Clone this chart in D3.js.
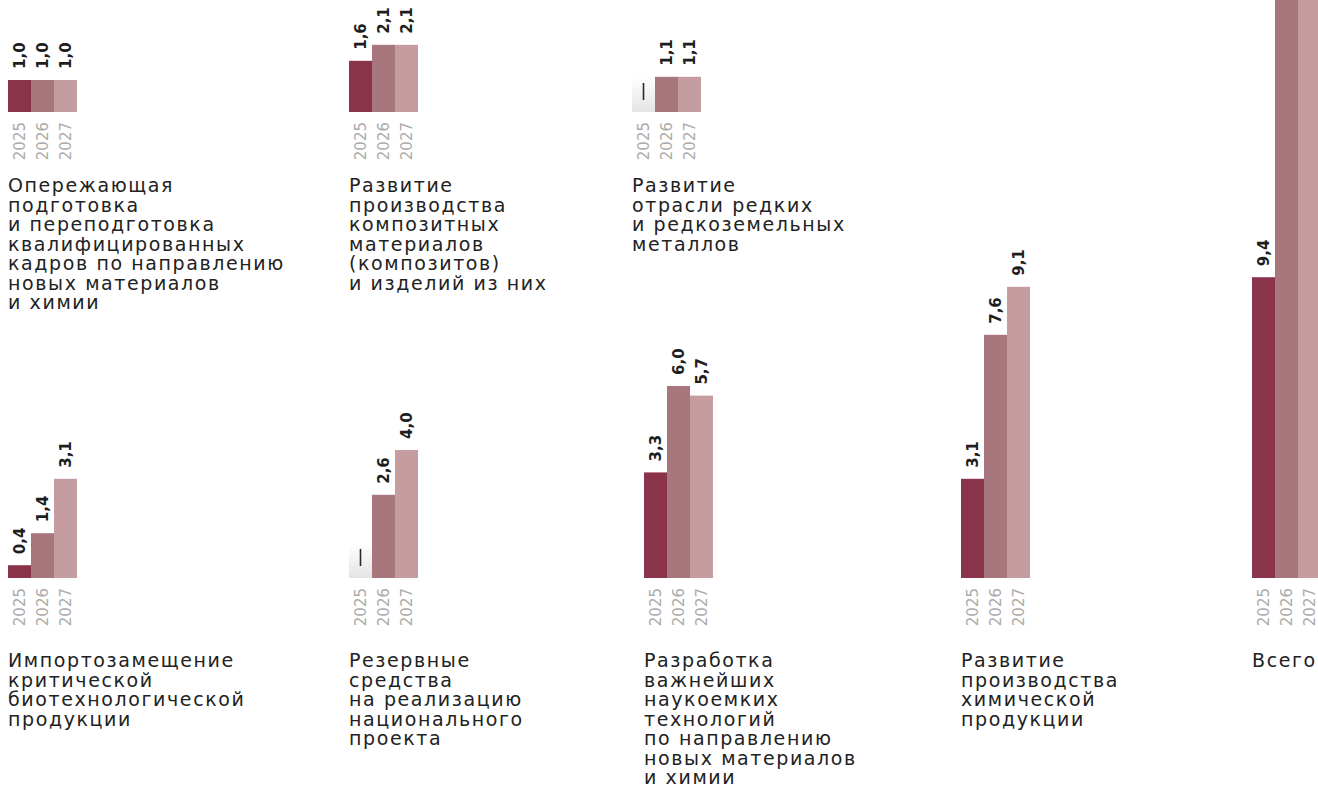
<!DOCTYPE html>
<html>
<head>
<meta charset="utf-8">
<script src="https://cdn.jsdelivr.net/npm/d3@7"></script>
<style>
  body { margin: 0; background: #fff; }
  svg { display: block; font-family: "DejaVu Sans", sans-serif; }
</style>
</head>
<body>
<div id="chart"></div>
<script>
const years = ["2025", "2026", "2027"];
const categories = [
  ["Опережающая", "подготовка", "и переподготовка", "квалифицированных", "кадров по направлению", "новых материалов", "и химии"],
  ["Развитие", "производства", "композитных", "материалов", "(композитов)", "и изделий из них"],
  ["Развитие", "отрасли редких", "и редкоземельных", "металлов"],
  ["Импортозамещение", "критической", "биотехнологической", "продукции"],
  ["Резервные", "средства", "на реализацию", "национального", "проекта"],
  ["Разработка", "важнейших", "наукоемких", "технологий", "по направлению", "новых материалов", "и химии"],
  ["Развитие", "производства", "химической", "продукции"],
  ["Всего"]
];
const values2025 = [1.0, 1.6, null, 0.4, null, 3.3, 3.1, 9.4];
const values2026 = [1.0, 2.1, 1.1, 1.4, 2.6, 6.0, 7.6, 21.8];
const values2027 = [1.0, 2.1, 1.1, 3.1, 4.0, 5.7, 9.1, 26.1];
const seriesValues = [values2025, values2026, values2027];

// layout of panels (left edge, row)
const panelX = [8, 349, 632, 8, 349, 644, 961, 1252];
const panelRow = [0, 0, 0, 1, 1, 1, 1, 1];
const rowBase = [112, 578];
const rowLabelY = [192, 667];
const colors = ["#8a344b", "#a8777d", "#c59ca0"];

const width = 1318, height = 807;
const svg = d3.select("#chart").append("svg")
  .attr("width", width).attr("height", height);

const defs = svg.append("defs");
const grad = defs.append("linearGradient").attr("id", "empty")
  .attr("x1", 0).attr("y1", 0).attr("x2", 0).attr("y2", 1);
grad.append("stop").attr("offset", "0%").attr("stop-color", "#ffffff");
grad.append("stop").attr("offset", "100%").attr("stop-color", "#e4e4e6");

const xScale = d3.scaleBand().domain(years).range([0, 69]);
const yScale = d3.scaleLinear().domain([0, 1]).range([0, 32]);
const fmt = v => d3.format(".1f")(v).replace(".", ",");

categories.forEach((lines, i) => {
  const base = rowBase[panelRow[i]];
  const g = svg.append("g").attr("transform", `translate(${panelX[i]},0)`);
  const data = years.map((y, k) => ({year: y, v: seriesValues[k][i], k}));
  const cx = d => xScale(d.year) + xScale.bandwidth() / 2;

  g.selectAll("rect.bar").data(data.filter(d => d.v != null)).enter()
    .append("rect").attr("class", "bar")
    .attr("x", d => xScale(d.year))
    .attr("width", xScale.bandwidth())
    .attr("y", d => base - yScale(d.v))
    .attr("height", d => yScale(d.v))
    .attr("fill", d => colors[d.k]);

  // no financing: light placeholder with a dash
  const empty = data.filter(d => d.v == null);
  g.selectAll("rect.empty").data(empty).enter()
    .append("rect").attr("class", "empty")
    .attr("x", d => xScale(d.year))
    .attr("width", xScale.bandwidth())
    .attr("y", base - 35)
    .attr("height", 35)
    .attr("fill", "url(#empty)");
  g.selectAll("line.dash").data(empty).enter()
    .append("line").attr("class", "dash")
    .attr("x1", cx).attr("x2", cx)
    .attr("y1", base - 29).attr("y2", base - 12)
    .attr("stroke", "#2a2a2a").attr("stroke-width", 1.6);

  // value labels (those above the picture edge are not drawn)
  g.selectAll("text.val").data(data.filter(d => d.v != null && base - yScale(d.v) - 40 > 0)).enter()
    .append("text").attr("class", "val")
    .attr("transform", d => `translate(${cx(d)},${base - yScale(d.v) - 11}) rotate(-90)`)
    .attr("dy", "0.36em")
    .attr("font-size", 15).attr("font-weight", "bold").attr("fill", "#1e1e1e")
    .text(d => fmt(d.v));

  g.selectAll("text.year").data(data).enter()
    .append("text").attr("class", "year")
    .attr("transform", d => `translate(${cx(d)},${base + 10}) rotate(-90)`)
    .attr("text-anchor", "end").attr("dy", "0.36em")
    .attr("font-size", 15).attr("fill", "#ababab")
    .text(d => d.year);

  const t = g.append("text").attr("y", rowLabelY[panelRow[i]])
    .attr("font-size", 19).attr("letter-spacing", 1.6).attr("fill", "#222");
  t.selectAll("tspan").data(lines).enter().append("tspan")
    .attr("x", 0).attr("dy", (d, j) => j ? 19.5 : 0)
    .text(d => d);
});
</script>
</body>
</html>
